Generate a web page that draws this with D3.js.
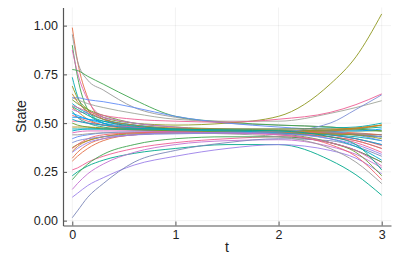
<!DOCTYPE html>
<head>
<meta charset="utf-8">
</head>
<style>
  body { margin: 0; background: #fff; }
  svg { display: block; font-family: 'Liberation Sans', Arial, sans-serif; }
  .axis .domain { stroke: #555; stroke-width: 1.2; }
  .axis line { stroke: #555; }
  .axis text { fill: #222; font-size: 12.5px; }
  .grid line { stroke: #000; stroke-opacity: 0.1; stroke-width: 0.5; }
</style>
<svg width="399" height="266"></svg>
<script src="https://d3js.org/d3.v7.min.js"></script>
<script>
var times = [0, 0.05, 0.15, 0.3, 0.6, 1, 1.5, 2, 2.5, 2.75, 3];

var xTicks = [0, 1, 2, 3];
var yTicks = [0, 0.25, 0.5, 0.75, 1];

var colors = [
  "#E36F47", "#999999", "#3EA44E", "#DD65B6", "#3EA44E", "#00AAAE", "#8E971E",
  "#a0a59a", "#618DF6", "#6C9E33", "#00A8CB", "#ED5E93", "#C68225", "#C371D2",
  "#00A98D", "#009AFA", "#F0606F", "#009AFA", "#ED5E93", "#00A8CB", "#AC8E18",
  "#618DF6", "#8E971E", "#C68225", "#E36F47", "#E36F47", "#ED5E93", "#00A98D",
  "#3EA44E", "#C371D2", "#9B7FE9", "#7B86B8", "#999999", "#F0606F", "#6C9E33",
  "#DD65B6", "#00A8CB", "#7E8FD6", "#9B7FE9", "#00AAAE", "#C68225", "#00A98D"
];

var series = [
  [0.99, 0.82, 0.63, 0.52, 0.48, 0.47, 0.465, 0.46, 0.455, 0.45, 0.44],
  [0.955, 0.82, 0.72, 0.67, 0.58, 0.53, 0.50, 0.49, 0.48, 0.47, 0.46],
  [0.90, 0.74, 0.57, 0.50, 0.47, 0.46, 0.455, 0.45, 0.445, 0.44, 0.43],
  [0.875, 0.76, 0.62, 0.53, 0.48, 0.465, 0.46, 0.455, 0.44, 0.42, 0.39],
  [0.775, 0.77, 0.74, 0.70, 0.62, 0.535, 0.505, 0.49, 0.48, 0.47, 0.46],
  [0.735, 0.64, 0.55, 0.50, 0.47, 0.46, 0.455, 0.45, 0.44, 0.43, 0.41],
  [0.69, 0.63, 0.57, 0.53, 0.50, 0.49, 0.50, 0.535, 0.70, 0.84, 1.06],
  [0.63, 0.62, 0.60, 0.58, 0.55, 0.52, 0.51, 0.51, 0.55, 0.58, 0.615],
  [0.63, 0.63, 0.62, 0.61, 0.58, 0.535, 0.50, 0.48, 0.46, 0.44, 0.41],
  [0.62, 0.60, 0.57, 0.54, 0.50, 0.48, 0.47, 0.465, 0.46, 0.46, 0.46],
  [0.60, 0.58, 0.55, 0.52, 0.49, 0.47, 0.46, 0.455, 0.45, 0.44, 0.43],
  [0.59, 0.58, 0.56, 0.54, 0.52, 0.51, 0.505, 0.52, 0.555, 0.595, 0.65],
  [0.58, 0.56, 0.52, 0.49, 0.47, 0.46, 0.455, 0.45, 0.445, 0.44, 0.43],
  [0.57, 0.56, 0.55, 0.53, 0.50, 0.48, 0.46, 0.45, 0.43, 0.41, 0.37],
  [0.56, 0.53, 0.50, 0.48, 0.465, 0.46, 0.46, 0.46, 0.465, 0.47, 0.48],
  [0.55, 0.54, 0.52, 0.50, 0.48, 0.47, 0.465, 0.46, 0.46, 0.46, 0.47],
  [0.54, 0.53, 0.51, 0.49, 0.475, 0.465, 0.46, 0.455, 0.44, 0.42, 0.385],
  [0.53, 0.53, 0.52, 0.51, 0.49, 0.47, 0.46, 0.455, 0.45, 0.445, 0.44],
  [0.51, 0.51, 0.50, 0.49, 0.48, 0.47, 0.46, 0.45, 0.43, 0.40, 0.35],
  [0.46, 0.465, 0.47, 0.47, 0.47, 0.465, 0.46, 0.455, 0.44, 0.42, 0.39],
  [0.48, 0.48, 0.48, 0.475, 0.47, 0.465, 0.46, 0.46, 0.465, 0.475, 0.49],
  [0.42, 0.43, 0.44, 0.45, 0.455, 0.455, 0.455, 0.455, 0.45, 0.44, 0.43],
  [0.375, 0.39, 0.41, 0.43, 0.445, 0.45, 0.45, 0.45, 0.445, 0.44, 0.42],
  [0.355, 0.38, 0.41, 0.43, 0.45, 0.455, 0.455, 0.455, 0.46, 0.47, 0.49],
  [0.32, 0.35, 0.39, 0.42, 0.44, 0.45, 0.45, 0.445, 0.43, 0.41, 0.37],
  [0.305, 0.33, 0.37, 0.41, 0.44, 0.45, 0.455, 0.455, 0.45, 0.445, 0.44],
  [0.26, 0.27, 0.30, 0.33, 0.37, 0.40, 0.42, 0.43, 0.40, 0.36, 0.30],
  [0.23, 0.25, 0.28, 0.31, 0.345, 0.37, 0.39, 0.39, 0.31, 0.235, 0.13],
  [0.21, 0.24, 0.29, 0.34, 0.39, 0.42, 0.43, 0.43, 0.40, 0.36, 0.30],
  [0.16, 0.19, 0.24, 0.29, 0.35, 0.39, 0.41, 0.415, 0.38, 0.34, 0.27],
  [0.12, 0.14, 0.18, 0.22, 0.285, 0.33, 0.37, 0.39, 0.36, 0.32, 0.24],
  [0.015, 0.05, 0.12, 0.19, 0.30, 0.36, 0.40, 0.42, 0.41, 0.38, 0.33],
  [0.44, 0.44, 0.445, 0.45, 0.45, 0.45, 0.445, 0.43, 0.37, 0.30, 0.19],
  [0.37, 0.39, 0.42, 0.44, 0.45, 0.455, 0.45, 0.44, 0.39, 0.33, 0.21],
  [0.50, 0.49, 0.48, 0.47, 0.465, 0.46, 0.455, 0.445, 0.40, 0.35, 0.23],
  [0.45, 0.455, 0.46, 0.46, 0.46, 0.455, 0.45, 0.44, 0.40, 0.36, 0.28],
  [0.52, 0.51, 0.50, 0.49, 0.475, 0.465, 0.46, 0.45, 0.42, 0.38, 0.31],
  [0.40, 0.41, 0.42, 0.43, 0.44, 0.445, 0.45, 0.455, 0.50, 0.57, 0.645],
  [0.35, 0.37, 0.40, 0.42, 0.44, 0.45, 0.45, 0.445, 0.42, 0.39, 0.34],
  [0.47, 0.47, 0.47, 0.47, 0.47, 0.47, 0.47, 0.47, 0.475, 0.48, 0.50],
  [0.65, 0.61, 0.56, 0.52, 0.49, 0.475, 0.47, 0.47, 0.47, 0.475, 0.49],
  [0.585, 0.57, 0.54, 0.51, 0.485, 0.47, 0.465, 0.46, 0.43, 0.39, 0.26]
];

var svg = d3.select("svg"),
    margin = {top: 7.5, right: 8, bottom: 40.5, left: 63},
    width = +svg.attr("width") - margin.left - margin.right,
    height = +svg.attr("height") - margin.top - margin.bottom,
    g = svg.append("g").attr("transform", "translate(" + margin.left + "," + margin.top + ")");

var x = d3.scaleLinear()
    .domain([-0.09, 3.09])
    .range([0, width]);

var y = d3.scaleLinear()
    .domain([-0.025, 1.093])
    .range([height, 0]);

// grid
g.append("g")
    .attr("class", "grid")
  .selectAll("line")
  .data(xTicks)
  .enter().append("line")
    .attr("x1", function(d) { return x(d); })
    .attr("x2", function(d) { return x(d); })
    .attr("y1", 0)
    .attr("y2", height);

g.append("g")
    .attr("class", "grid")
  .selectAll("line")
  .data(yTicks)
  .enter().append("line")
    .attr("x1", 0)
    .attr("x2", width)
    .attr("y1", function(d) { return y(d); })
    .attr("y2", function(d) { return y(d); });

var line = d3.line()
    .curve(d3.curveMonotoneX)
    .x(function(d, i) { return x(times[i]); })
    .y(function(d) { return y(d); });

g.append("g")
  .selectAll("path")
  .data(series)
  .enter().append("path")
    .attr("fill", "none")
    .attr("stroke", function(d, i) { return colors[i % colors.length]; })
    .attr("stroke-width", 1)
    .attr("stroke-opacity", 0.9)
    .attr("d", line);

g.append("g")
    .attr("class", "axis")
    .attr("transform", "translate(0," + height + ")")
    .call(d3.axisBottom(x).tickValues(xTicks).tickFormat(d3.format("d")).tickSizeInner(-4).tickSizeOuter(0).tickPadding(5));

g.append("g")
    .attr("class", "axis")
    .call(d3.axisLeft(y).tickValues(yTicks).tickFormat(d3.format(".2f")).tickSizeInner(-4).tickSizeOuter(0).tickPadding(5));

g.selectAll(".axis text").attr("font-family", null).attr("font-size", null);

svg.append("text")
    .attr("x", margin.left + width / 2)
    .attr("y", 252)
    .attr("text-anchor", "middle")
    .attr("font-size", 14)
    .attr("fill", "#222")
    .text("t");

svg.append("text")
    .attr("transform", "translate(26," + (margin.top + height / 2) + ") rotate(-90)")
    .attr("text-anchor", "middle")
    .attr("font-size", 14)
    .attr("fill", "#222")
    .text("State");
</script>
